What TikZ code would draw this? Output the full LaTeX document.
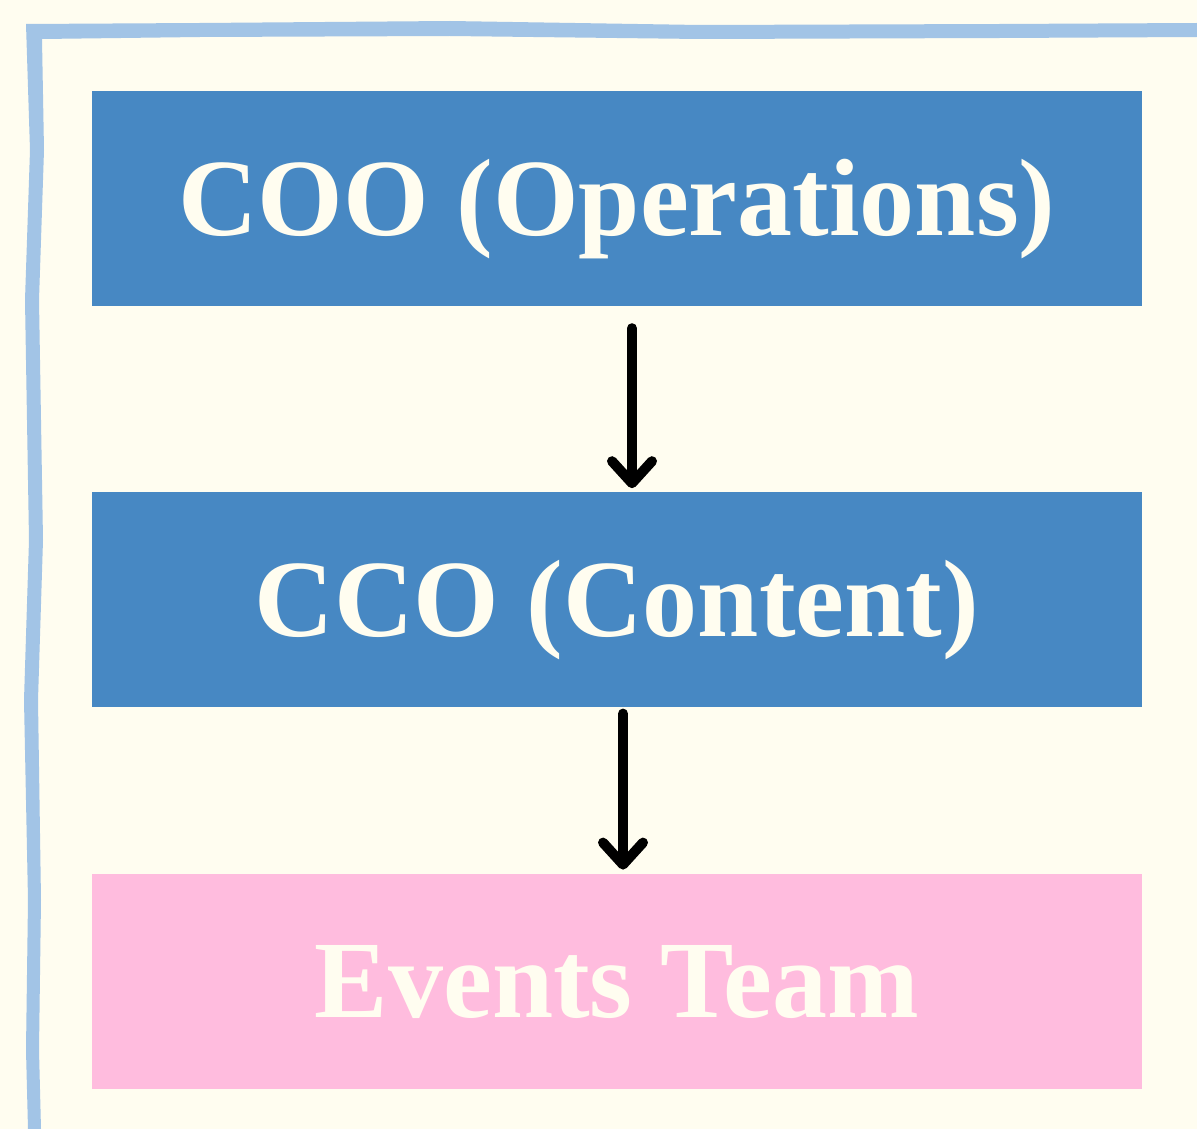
\documentclass[tikz,border=0pt]{standalone}
\usepackage{fontspec}
\setmainfont{Liberation Serif}
\usetikzlibrary{arrows.meta,positioning}
\definecolor{paper}{HTML}{FFFDF0}
\definecolor{frameblue}{HTML}{A2C4E6}
\definecolor{boxblue}{HTML}{4788C3}
\definecolor{boxpink}{HTML}{FFBCDE}
\tikzset{
  rolebox/.style={minimum width=1050pt, minimum height=215pt, inner sep=0pt,
    text height=73pt, text depth=0pt,
    font=\fontsize{110}{110}\selectfont\bfseries, text=paper},
  flow/.style={line width=10pt, line cap=round,
    -{Straight Barb[round, length=22pt, width=40pt, line width=10pt]}},
  frameline/.style={draw=frameblue, line width=13pt, line join=round}
}
\begin{document}
\begin{tikzpicture}[x=1pt,y=-1pt]
                \fill[paper] (0,0) rectangle (1197,1129);
                \useasboundingbox (0,0) rectangle (1197,1129);

                % hand drawn frame
                \fill[frameblue] (26,24) -- (200,23) -- (450,21) -- (700,25) -- (1000,24) -- (1197,23)
                  -- (1197,37) -- (1000,38) -- (700,39) -- (450,36) -- (200,37) -- (42,39)
                  -- (44,150) -- (39,300) -- (43,540) -- (38,700) -- (41,900) -- (39,1050) -- (41,1129)
                  -- (28,1129) -- (26,1050) -- (28,900) -- (24,700) -- (29,540) -- (25,300) -- (30,150) -- cycle;

                \node[rolebox, fill=boxblue] (coo) at (617,198.5) {COO (Operations)};
                \node[rolebox, fill=boxblue, below=186pt of coo] (cco) {CCO (Content)};
                \node[rolebox, fill=boxpink, below=166pt of cco] (team) {Events Team};

                \draw[flow] ([xshift=15pt,yshift=-22pt]coo.south) -- ([xshift=15pt,yshift=4pt]cco.north);
                \draw[flow] ([xshift=6pt,yshift=-6pt]cco.south) -- ([xshift=6pt,yshift=4pt]team.north);
\end{tikzpicture}
\end{document}
